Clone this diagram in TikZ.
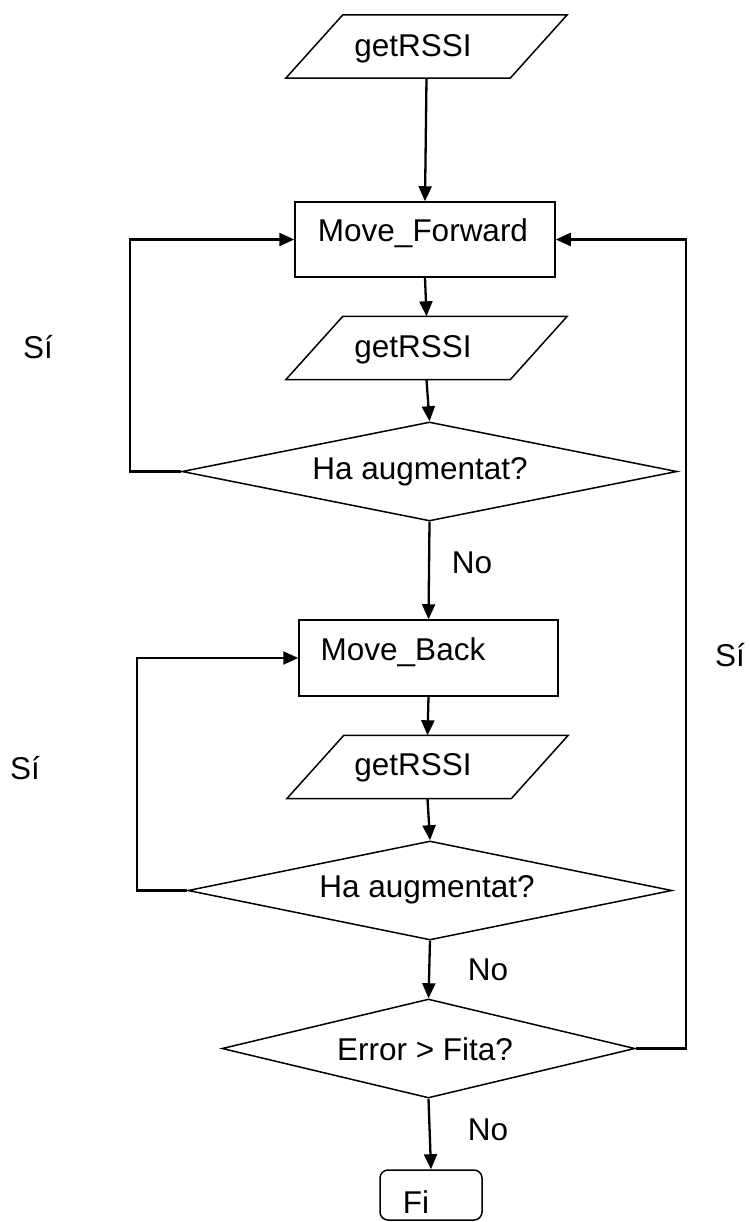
\documentclass[tikz,border=0pt]{standalone}
\usepackage{fontspec}
\setmainfont{Liberation Sans}
\usetikzlibrary{shapes.geometric,arrows.meta}
\begin{document}
\begin{tikzpicture}[x=1pt,y=-1pt,font=\fontsize{31.5pt}{38pt}\selectfont]

    \tikzset{
      io/.style={
        rectangle,
        inner sep=0pt,
        minimum width=224pt,
        minimum height=63pt,
        append after command={\pgfextra{
          \draw[line width=1.5pt]
            ([xshift=-28.5pt]\tikzlastnode.south west) --
            ([xshift=-28.5pt]\tikzlastnode.south east) --
            ([xshift=28.5pt]\tikzlastnode.north east) --
            ([xshift=28.5pt]\tikzlastnode.north west) -- cycle;}},
      },
      proc/.style={
        draw,
        line width=1.5pt,
        rectangle,
        inner sep=0pt,
      },
      decision/.style={
        draw,
        line width=1.5pt,
        diamond,
        inner sep=0pt,
        minimum height=99pt,
      },
      arr/.style={line width=2.3pt,-{Triangle[length=15pt,width=13pt]}},
      loop/.style={line width=2.3pt,-{Triangle[length=15pt,width=13pt]}},
    }
    \fill[white] (0,0) rectangle (750,1222);
    \useasboundingbox (0,0) rectangle (750,1222);

	% blocs del diagrama
	\node[io, label={[xshift=-13.5pt,yshift=-2.5pt]center:getRSSI}] (rssiA) at (426.5,46.5) {};
	\node[proc, minimum width=260pt, minimum height=75pt, label={[xshift=-2pt,yshift=6.5pt]center:Move\_Forward}] (fwd) at (425,239.5) {};
	\node[io, label={[xshift=-13.5pt,yshift=-2pt]center:getRSSI}] (rssiB) at (426.5,348) {};
	\node[decision, minimum width=495pt, label={[xshift=-9.5pt,yshift=-0.5pt]center:Ha augmentat?}] (incA) at (429.5,471.5) {};
	\node[proc, minimum width=259pt, minimum height=76pt, label={[xshift=-25.5pt,yshift=6pt]center:Move\_Back}] (back) at (428.5,658) {};
	\node[io, label={[xshift=-14.5pt,yshift=-1pt]center:getRSSI}] (rssiC) at (427.5,767) {};
	\node[decision, minimum width=484pt, label={[xshift=-3pt,yshift=0.5pt]center:Ha augmentat?}] (incB) at (430,890.5) {};
	\node[decision, minimum width=413pt, label={[xshift=-3.5pt,yshift=-0.5pt]center:Error > Fita?}] (err) at (428.5,1048.5) {};
	\node[proc, rounded corners=8pt, minimum width=102pt, minimum height=50pt, label={[xshift=-15pt,yshift=-7pt]center:Fi}] (fi) at (431,1195) {};

	% etiquetes
	\node (siA) at (38,347) {Sí};
	\node (siB) at (25,768) {Sí};
	\node (siC) at (730,655) {Sí};
	\node (noA) at (472,563) {No};
	\node (noB) at (488,970) {No};
	\node (noC) at (488,1130) {No};

	% fletxes
	\draw[arr] (rssiA.south) -- (fwd.north);
	\draw[arr] (fwd.south) -- (rssiB.north);
	\draw[arr] (rssiB.south) -- (incA.north);
	\draw[arr] (incA.south) -- (back.north);
	\draw[arr] (back.south) -- (rssiC.north);
	\draw[arr] (rssiC.south) -- (incB.north);
	\draw[arr] (incB.south) -- (err.north);
	\draw[arr] (err.south) -- (fi.north);
	\draw[loop] (incA.west) -- ++(-51,0) |- (fwd.west);
	\draw[loop] (incB.west) -- ++(-50,0) |- (back.west);
	\draw[loop] (err.east) -- ++(50,0) |- (fwd.east);

\end{tikzpicture}
\end{document}
